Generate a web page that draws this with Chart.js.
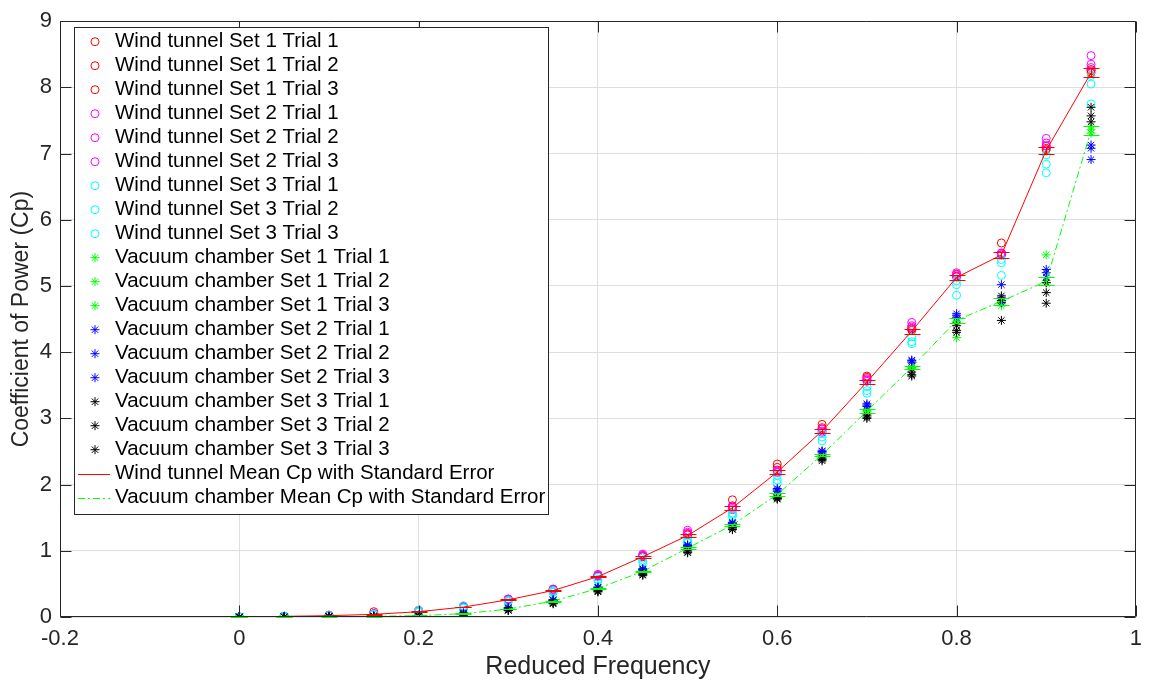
<!DOCTYPE html>
<html>
<head>
<meta charset="utf-8">
<script src="https://cdn.jsdelivr.net/npm/chart.js@4.4.0/dist/chart.umd.min.js"></script>
<style>
  body { margin: 0; background: #fff; }
  #wrap { width: 1151px; height: 687px; }
</style>
</head>
<body>
<div id="wrap"><canvas id="cpChart"></canvas></div>
<script>
// reduced frequency values
const freq = [0, 0.05, 0.1, 0.15, 0.2, 0.25, 0.3, 0.35, 0.4, 0.45, 0.5, 0.55, 0.6, 0.65, 0.7, 0.75, 0.8, 0.85, 0.9, 0.95];

// wind tunnel trials
const wtS1T1 = [0, 0.01, 0.03, 0.08, 0.10, 0.16, 0.27, 0.42, 0.64, 0.93, 1.26, 1.77, 2.31, 2.91, 3.64, 4.36, 5.15, 5.65, 7.11, 8.27];
const wtS1T2 = [0, 0.01, 0.02, 0.05, 0.09, 0.15, 0.26, 0.41, 0.62, 0.92, 1.25, 1.68, 2.26, 2.86, 3.62, 4.35, 5.18, 5.49, 7.08, 8.25];
const wtS1T3 = [0, 0.01, 0.02, 0.05, 0.08, 0.15, 0.26, 0.40, 0.62, 0.91, 1.24, 1.66, 2.22, 2.84, 3.58, 4.33, 5.14, 5.47, 7.06, 8.22];
const wtS2T1 = [0, 0.01, 0.02, 0.05, 0.09, 0.16, 0.27, 0.42, 0.64, 0.95, 1.31, 1.67, 2.21, 2.84, 3.60, 4.45, 5.20, 5.50, 7.23, 8.48];
const wtS2T2 = [0, 0.01, 0.02, 0.04, 0.09, 0.15, 0.27, 0.41, 0.63, 0.93, 1.28, 1.64, 2.19, 2.81, 3.58, 4.40, 5.17, 5.49, 7.16, 8.35];
const wtS2T3 = [0, 0.01, 0.02, 0.04, 0.08, 0.15, 0.26, 0.40, 0.62, 0.92, 1.26, 1.62, 2.18, 2.79, 3.56, 4.38, 5.14, 5.47, 7.12, 8.30];
const wtS3T1 = [0, 0.01, 0.02, 0.04, 0.10, 0.17, 0.25, 0.40, 0.60, 0.89, 1.17, 1.57, 2.14, 2.77, 3.48, 4.23, 5.08, 5.40, 6.98, 8.18];
const wtS3T2 = [0, 0.01, 0.02, 0.04, 0.08, 0.14, 0.24, 0.38, 0.57, 0.86, 1.14, 1.55, 2.07, 2.72, 3.42, 4.16, 5.02, 5.35, 6.84, 8.05];
const wtS3T3 = [0, 0.01, 0.02, 0.04, 0.07, 0.13, 0.23, 0.37, 0.55, 0.83, 1.12, 1.52, 2.02, 2.66, 3.38, 4.13, 4.86, 5.16, 6.71, 7.75];

// vacuum chamber trials
const vcS1T1 = [0, 0, 0.01, 0.01, 0.02, 0.05, 0.13, 0.25, 0.44, 0.71, 1.06, 1.41, 1.86, 2.45, 3.12, 3.78, 4.46, 4.76, 5.47, 7.41];
const vcS1T2 = [0, 0, 0.01, 0.01, 0.02, 0.05, 0.12, 0.24, 0.43, 0.70, 1.04, 1.40, 1.84, 2.44, 3.10, 3.77, 4.45, 4.74, 5.08, 7.36];
const vcS1T3 = [0, 0, 0, 0.01, 0.02, 0.04, 0.12, 0.24, 0.42, 0.69, 1.03, 1.38, 1.81, 2.42, 3.07, 3.75, 4.22, 4.70, 5.05, 7.31];
const vcS2T1 = [0, 0, 0.01, 0.02, 0.03, 0.06, 0.14, 0.26, 0.45, 0.73, 1.09, 1.43, 1.94, 2.51, 3.22, 3.88, 4.58, 5.02, 5.25, 7.13];
const vcS2T2 = [0, 0, 0.01, 0.01, 0.02, 0.06, 0.14, 0.26, 0.45, 0.72, 1.08, 1.42, 1.92, 2.50, 3.20, 3.87, 4.55, 4.82, 5.20, 7.08];
const vcS2T3 = [0, 0, 0.01, 0.01, 0.02, 0.05, 0.13, 0.25, 0.44, 0.71, 1.06, 1.41, 1.90, 2.48, 3.18, 3.85, 4.52, 4.75, 5.13, 6.91];
const vcS3T1 = [0, 0, 0, 0.01, 0.01, 0.04, 0.11, 0.22, 0.40, 0.66, 1.00, 1.35, 1.80, 2.40, 3.05, 3.70, 4.40, 4.85, 5.05, 7.70];
const vcS3T2 = [0, 0, 0, 0, 0.01, 0.03, 0.10, 0.21, 0.39, 0.64, 0.98, 1.33, 1.79, 2.38, 3.02, 3.66, 4.33, 4.78, 4.90, 7.57];
const vcS3T3 = [0, 0, 0, 0, 0.01, 0.03, 0.10, 0.20, 0.38, 0.63, 0.97, 1.32, 1.78, 2.36, 3.00, 3.64, 4.30, 4.48, 4.74, 7.48];

// means and standard errors
const wtMean = [0, 0.01, 0.02, 0.04, 0.08, 0.15, 0.26, 0.40, 0.61, 0.91, 1.23, 1.65, 2.19, 2.81, 3.55, 4.32, 5.13, 5.47, 7.05, 8.22];
const wtErr = [0, 0, 0.002, 0.005, 0.005, 0.005, 0.005, 0.007, 0.01, 0.014, 0.02, 0.028, 0.033, 0.03, 0.03, 0.038, 0.035, 0.05, 0.055, 0.07];
const vcMean = [0, 0.003, 0.006, 0.01, 0.02, 0.05, 0.12, 0.24, 0.43, 0.69, 1.04, 1.39, 1.85, 2.45, 3.11, 3.77, 4.48, 4.77, 5.07, 7.35];
const vcErr = [0, 0, 0.002, 0.003, 0.003, 0.004, 0.005, 0.006, 0.008, 0.011, 0.014, 0.013, 0.018, 0.016, 0.025, 0.027, 0.04, 0.05, 0.06, 0.07];

const xTicks = [-0.2, 0, 0.2, 0.4, 0.6, 0.8, 1];
const yTicks = [0, 1, 2, 3, 4, 5, 6, 7, 8, 9];

const axisColor = '#262626';
const fontFamily = '"Liberation Sans", Arial, Helvetica, sans-serif';

function toPoints(values) {
    return freq.map((f, i) => ({ x: f, y: values[i] }));
}

const trials = [
    ['Wind tunnel Set 1 Trial 1', wtS1T1, '#ff0000', 'circle'],
    ['Wind tunnel Set 1 Trial 2', wtS1T2, '#ff0000', 'circle'],
    ['Wind tunnel Set 1 Trial 3', wtS1T3, '#ff0000', 'circle'],
    ['Wind tunnel Set 2 Trial 1', wtS2T1, '#ff00ff', 'circle'],
    ['Wind tunnel Set 2 Trial 2', wtS2T2, '#ff00ff', 'circle'],
    ['Wind tunnel Set 2 Trial 3', wtS2T3, '#ff00ff', 'circle'],
    ['Wind tunnel Set 3 Trial 1', wtS3T1, '#00ffff', 'circle'],
    ['Wind tunnel Set 3 Trial 2', wtS3T2, '#00ffff', 'circle'],
    ['Wind tunnel Set 3 Trial 3', wtS3T3, '#00ffff', 'circle'],
    ['Vacuum chamber Set 1 Trial 1', vcS1T1, '#00ff00', 'star'],
    ['Vacuum chamber Set 1 Trial 2', vcS1T2, '#00ff00', 'star'],
    ['Vacuum chamber Set 1 Trial 3', vcS1T3, '#00ff00', 'star'],
    ['Vacuum chamber Set 2 Trial 1', vcS2T1, '#0000ff', 'star'],
    ['Vacuum chamber Set 2 Trial 2', vcS2T2, '#0000ff', 'star'],
    ['Vacuum chamber Set 2 Trial 3', vcS2T3, '#0000ff', 'star'],
    ['Vacuum chamber Set 3 Trial 1', vcS3T1, '#000000', 'star'],
    ['Vacuum chamber Set 3 Trial 2', vcS3T2, '#000000', 'star'],
    ['Vacuum chamber Set 3 Trial 3', vcS3T3, '#000000', 'star']
];

const datasets = trials.map((t, i) => ({
    label: t[0],
    data: toPoints(t[1]),
    borderColor: t[2],
    backgroundColor: 'rgba(0,0,0,0)',
    pointStyle: t[3],
    pointRadius: t[3] === 'circle' ? 4 : 4.5,
    pointBorderWidth: 1,
    showLine: false,
    order: 100 - i
}));

datasets.push({
    label: 'Wind tunnel Mean Cp with Standard Error',
    data: toPoints(wtMean),
    errors: wtErr,
    borderColor: '#ff0000',
    backgroundColor: '#ff0000',
    borderWidth: 1,
    pointRadius: 0,
    showLine: true,
    order: 1
});
datasets.push({
    label: 'Vacuum chamber Mean Cp with Standard Error',
    data: toPoints(vcMean),
    errors: vcErr,
    borderColor: '#00ff00',
    backgroundColor: '#00ff00',
    borderWidth: 1,
    borderDash: [7, 3, 2, 3],
    pointRadius: 0,
    showLine: true,
    order: 0
});

// error bars with caps, drawn from the mean datasets
const errorBars = {
    id: 'errorBars',
    afterDatasetsDraw(chart) {
        const ctx = chart.ctx;
        const xs = chart.scales.x, ys = chart.scales.y;
        ctx.save();
        chart.data.datasets.forEach(ds => {
            if (!ds.errors) return;
            ctx.strokeStyle = ds.borderColor;
            ctx.lineWidth = 1;
            ds.data.forEach((p, i) => {
                const px = Math.round(xs.getPixelForValue(p.x)) + 0.5;
                const top = Math.round(ys.getPixelForValue(p.y + ds.errors[i])) + 0.5;
                const bot = Math.round(ys.getPixelForValue(p.y - ds.errors[i])) + 0.5;
                ctx.beginPath();
                ctx.moveTo(px, top); ctx.lineTo(px, bot);
                ctx.moveTo(px - 8, top); ctx.lineTo(px + 8, top);
                ctx.moveTo(px - 8, bot); ctx.lineTo(px + 8, bot);
                ctx.stroke();
            });
        });
        ctx.restore();
    }
};

// matlab-like box, inward ticks and legend box
const frame = {
    id: 'frame',
    afterDraw(chart) {
        const ctx = chart.ctx;
        const a = chart.chartArea;
        const xs = chart.scales.x, ys = chart.scales.y;
        const L = Math.round(a.left) + 0.5, R = Math.round(a.right) - 0.5;
        const T = Math.round(a.top) + 0.5, B = Math.round(a.bottom) - 0.5;
        ctx.save();
        ctx.strokeStyle = axisColor;
        ctx.lineWidth = 1;
        ctx.beginPath();
        ctx.rect(L, T, R - L, B - T);
        xTicks.forEach(v => {
            const px = Math.round(xs.getPixelForValue(v)) + 0.5;
            ctx.moveTo(px, B); ctx.lineTo(px, B - 11);
            ctx.moveTo(px, T); ctx.lineTo(px, T + 11);
        });
        yTicks.forEach(v => {
            const py = Math.round(ys.getPixelForValue(v)) + 0.5;
            ctx.moveTo(L, py); ctx.lineTo(L + 11, py);
            ctx.moveTo(R, py); ctx.lineTo(R - 11, py);
        });
        ctx.stroke();

        // legend
        const lx = 74.5, ly = 27.5, lw = 474, lh = 487;
        ctx.fillStyle = '#ffffff';
        ctx.fillRect(lx, ly, lw, lh);
        ctx.strokeStyle = axisColor;
        ctx.strokeRect(lx, ly, lw, lh);
        ctx.font = '20.5px ' + fontFamily;
        ctx.textBaseline = 'middle';
        ctx.textAlign = 'left';
        chart.data.datasets.forEach((ds, i) => {
            const y = 41.7 + 24 * i;
            ctx.strokeStyle = ds.borderColor;
            ctx.fillStyle = 'rgba(0,0,0,0)';
            ctx.lineWidth = 1;
            if (ds.showLine) {
                ctx.setLineDash(ds.borderDash || []);
                ctx.beginPath();
                ctx.moveTo(78, Math.round(y) + 0.5);
                ctx.lineTo(110, Math.round(y) + 0.5);
                ctx.stroke();
                ctx.setLineDash([]);
            } else {
                Chart.helpers.drawPoint(ctx, {
                    pointStyle: ds.pointStyle,
                    radius: ds.pointRadius,
                    borderWidth: 1,
                    rotation: 0
                }, 95, y);
            }
            ctx.fillStyle = '#000000';
            ctx.fillText(ds.label, 115, y);
        });
        ctx.restore();
    }
};

Chart.defaults.font.family = fontFamily;
Chart.defaults.color = axisColor;

new Chart(document.getElementById('cpChart'), {
    type: 'scatter',
    data: { datasets: datasets },
    options: {
        responsive: true,
        maintainAspectRatio: false,
        animation: false,
        layout: { padding: { top: 14, right: 9, left: 0, bottom: 0 } },
        plugins: {
            legend: { display: false },
            tooltip: { enabled: false }
        },
        scales: {
            x: {
                type: 'linear',
                min: -0.2,
                max: 1,
                afterFit: s => { s.height = 70; },
                afterBuildTicks: s => { s.ticks = xTicks.map(v => ({ value: v })); },
                ticks: {
                    font: { size: 22 },
                    color: axisColor,
                    padding: 9,
                    maxRotation: 0,
                    callback: v => String(Math.round(v * 10) / 10)
                },
                grid: { color: '#dfdfdf', drawTicks: false },
                border: { display: false },
                title: {
                    display: true,
                    text: 'Reduced Frequency',
                    font: { size: 25 },
                    color: axisColor,
                    padding: { top: 0, bottom: 5 }
                }
            },
            y: {
                type: 'linear',
                min: 0,
                max: 9,
                afterFit: s => { s.width = 60; },
                afterBuildTicks: s => { s.ticks = yTicks.map(v => ({ value: v })); },
                ticks: {
                    font: { size: 22 },
                    color: axisColor,
                    padding: 8
                },
                grid: { color: '#dfdfdf', drawTicks: false },
                border: { display: false },
                title: {
                    display: true,
                    text: 'Coefficient of Power (Cp)',
                    font: { size: 23 },
                    color: axisColor,
                    padding: { top: 8, bottom: 0 }
                }
            }
        }
    },
    plugins: [errorBars, frame]
});
</script>
</body>
</html>
